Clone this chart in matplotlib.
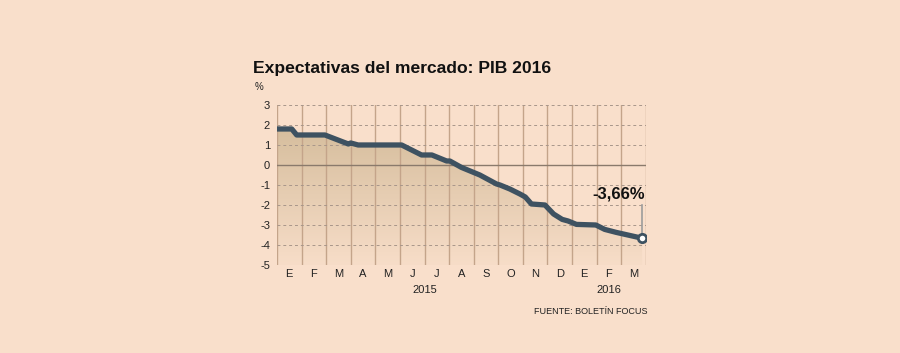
import matplotlib

matplotlib.use("Agg")
import matplotlib.pyplot as plt
import numpy as np
from matplotlib.colors import LinearSegmentedColormap

# months since start of Jan 2015 -> expected GDP growth 2016 (%)
MONTH_POS = [0, 0.6, 0.8, 1.95, 2.9, 3.0, 3.3, 5.07, 5.88, 6.3, 6.9, 7.03,
             7.5, 8.25, 8.93, 9.07, 9.47, 9.88, 10.1, 10.35, 10.9, 11.25,
             11.6, 11.84, 12.18, 12.97, 13.33, 13.8, 14.85]
PIB_VALUES = [1.8, 1.8, 1.5, 1.5, 1.05, 1.1, 1.0, 1.0, 0.5, 0.5, 0.2, 0.2,
              -0.12, -0.5, -0.95, -1.0, -1.2, -1.45, -1.6, -1.95, -2.0, -2.45,
              -2.72, -2.8, -2.97, -3.0, -3.22, -3.37, -3.66]
MONTH_LABELS = ["E", "F", "M", "A", "M", "J", "J", "A", "S", "O", "N", "D",
                "E", "F", "M"]
YEAR_LABELS = ["2015", "2016"]
YEAR_POS = [6.0, 13.5]
Y_TICKS = [3, 2, 1, 0, -1, -2, -3, -4, -5]
LAST_LABEL = "-3,66%"

BG = "#f9dfcb"
LINE = "#3e5261"
VGRID = "#c4a48a"
HGRID = "#a8968a"
FONT = ["Liberation Sans Narrow", "Liberation Sans", "DejaVu Sans"]

plt.rcParams["font.family"] = FONT

fig = plt.figure(figsize=(9, 3.53), dpi=100, facecolor=BG)
ax = fig.add_axes([0.3078, 0.2493, 0.4097, 0.4533])
ax.set_facecolor(BG)

# gradient fill under the line (dark at top, fading into the background)
x = np.array(MONTH_POS)
y = np.array(PIB_VALUES)
cmap = LinearSegmentedColormap.from_list("fill", ["#d5bd9c", "#f7ddc8"])
grad = np.linspace(0, 1, 256).reshape(-1, 1)
img = ax.imshow(grad, extent=(0, 15, -5, 2.0), aspect="auto", cmap=cmap,
                origin="upper", zorder=1)
clip = plt.Polygon(np.column_stack([np.r_[x, x[::-1]], np.r_[y, np.full(len(x), -5)]]),
                   transform=ax.transData, facecolor="none", edgecolor="none")
ax.add_patch(clip)
img.set_clip_path(clip)
ax.set_xlim(0, 15)
ax.set_ylim(-5, 3)

# grid
for m in range(16):
    ax.axvline(m, color=VGRID, lw=1.0, zorder=2)
for v in Y_TICKS:
    if v == 0:
        ax.axhline(v, color="#8a7a6c", lw=1.0, zorder=2)
    else:
        ax.axhline(v, color=HGRID, lw=0.7, ls=(0, (3, 3)), zorder=2)

ax.plot(x, y, color=LINE, lw=3.8, solid_joinstyle="round",
        solid_capstyle="round", zorder=4)
ax.plot([x[-1], x[-1]], [y[-1], -2.0], color="#9c9c9c", lw=1.2, zorder=3)
ax.plot(x[-1], y[-1], "o", ms=6, mfc="white", mec=LINE, mew=2, zorder=5)
ax.text(14.97, -1.45, LAST_LABEL, ha="right", va="center", fontsize=12,
        fontweight="bold", color="#111111", zorder=6)

for s in ax.spines.values():
    s.set_visible(False)
ax.set_yticks(Y_TICKS)
ax.set_yticklabels([str(v) for v in Y_TICKS], fontsize=8)
ax.set_xticks(np.arange(15) + 0.5)
ax.set_xticklabels(MONTH_LABELS, fontsize=8)
ax.tick_params(axis="x", length=0, pad=3, colors="#222222")
ax.tick_params(axis="y", length=0, pad=5, colors="#222222")
for xp, lab in zip(YEAR_POS, YEAR_LABELS):
    ax.text(xp, -6.25, lab, ha="center", va="center", fontsize=8,
            color="#222222")

fig.text(253 / 900, 1 - 68 / 353, "Expectativas del mercado: PIB 2016",
         fontsize=12.6, fontweight="bold", ha="left", va="center",
         color="#111111")
fig.text(255 / 900, 1 - 87 / 353, "%", fontsize=7, ha="left", va="center",
         color="#222222")
fig.text(648 / 900, 1 - 311 / 353, "FUENTE: BOLETÍN FOCUS", fontsize=6.5,
         ha="right", va="center", color="#222222")

fig.savefig("out.png", dpi=100, facecolor=BG)
